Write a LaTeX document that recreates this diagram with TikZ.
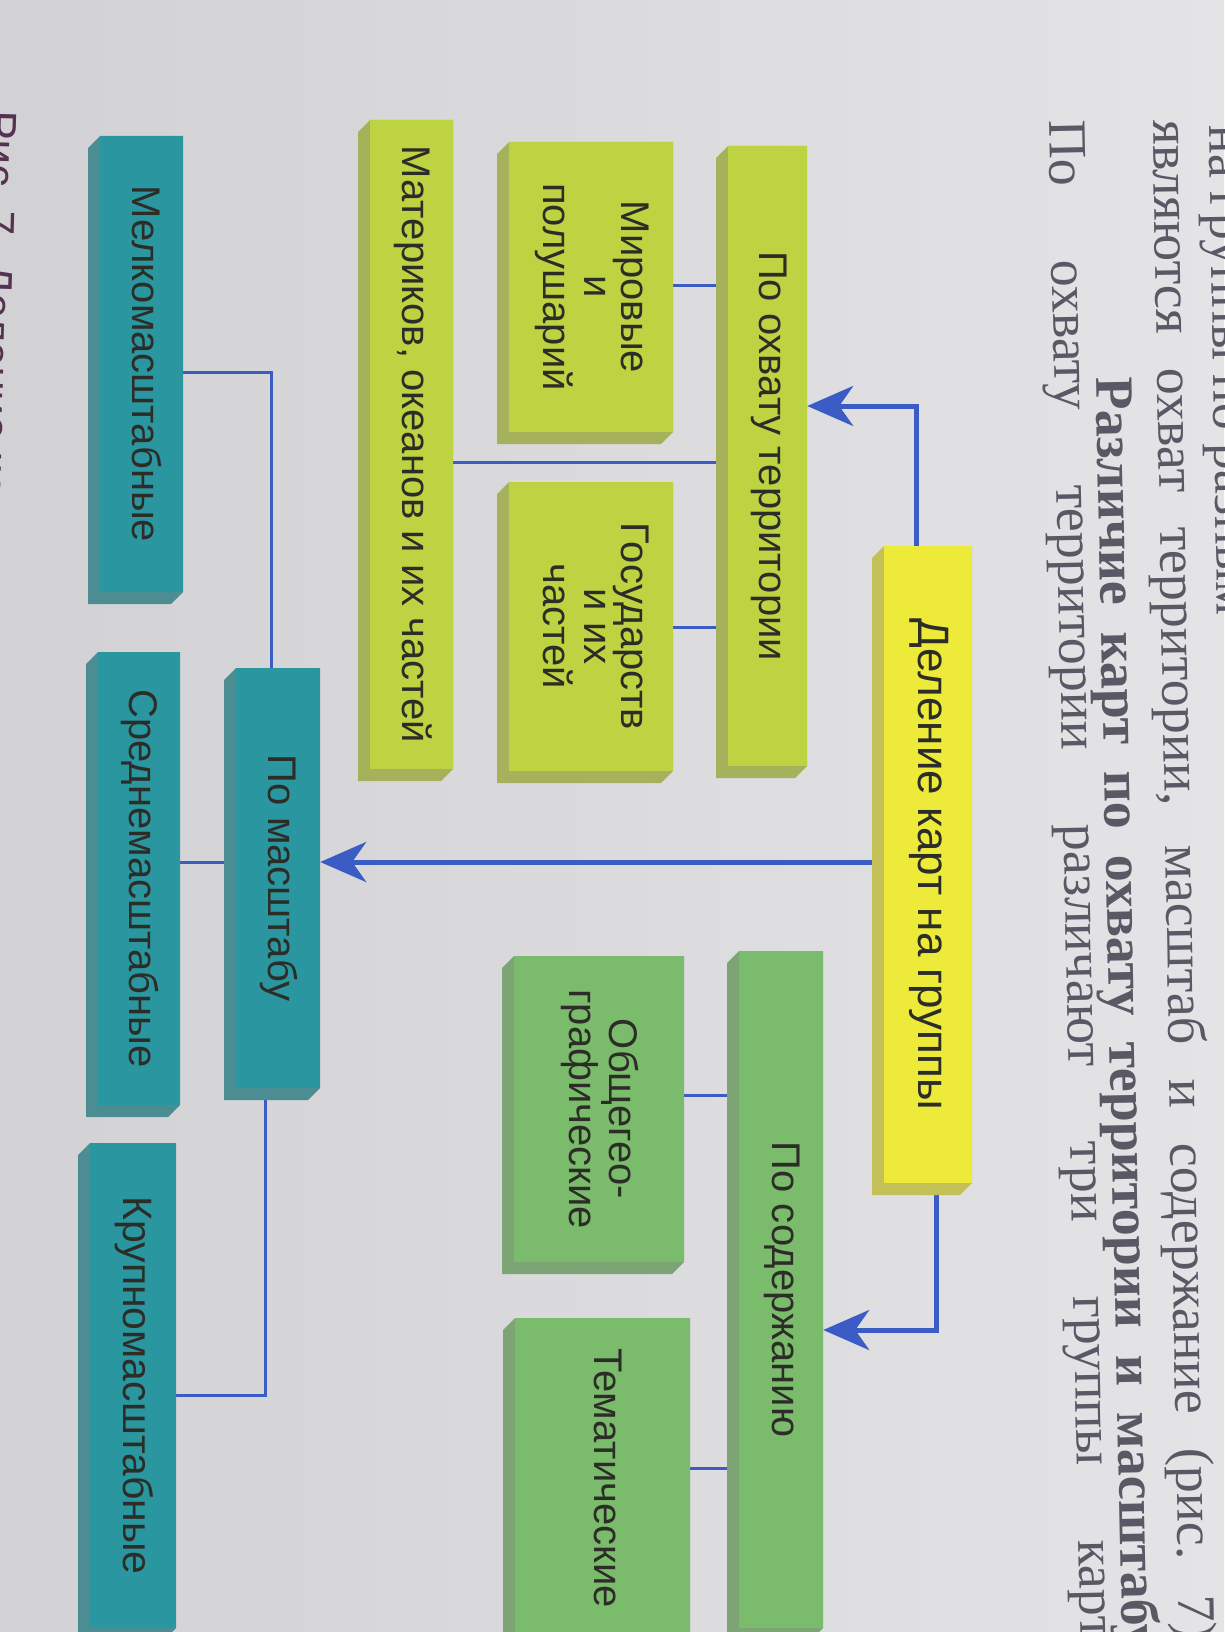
\documentclass[tikz,border=0pt]{standalone}
\usepackage{fontspec}
\usepackage{graphicx}
\setmainfont{Liberation Serif}
\newfontfamily\boxfont{Liberation Sans}
\usetikzlibrary{arrows.meta}
\definecolor{paperA}{RGB}{210,210,213}
\definecolor{paperB}{RGB}{228,228,230}
\definecolor{yellowc}{RGB}{238,234,58}
\definecolor{ygreen}{RGB}{190,211,66}
\definecolor{greenc}{RGB}{122,188,108}
\definecolor{tealc}{RGB}{42,150,160}
\definecolor{lineblue}{RGB}{58,92,196}
\definecolor{boxtext}{RGB}{45,45,40}
\definecolor{booktext}{RGB}{90,88,100}
\definecolor{captext}{RGB}{85,50,80}
\pgfdeclarelayer{paper}
\pgfdeclarelayer{bg}
\pgfsetlayers{paper,bg,main}
\tikzset{
  con/.style={draw=lineblue, line width=3pt},
  arr/.style={draw=lineblue, line width=5pt, -{Stealth[length=46pt,width=40pt,inset=14pt]}},
  bk/.style={text=booktext, inner sep=0pt, font=\fontsize{54}{56}\selectfont},
}
% name, x1, y1, x2, y2, colour, font size, text
\newcommand\blk[8]{%
  \fill[#6!60!gray] ({#2+12},#3) -- (#4,#3) -- (#4,{#5-12}) -- ({#4-12},#5) -- (#2,#5) -- (#2,{#3+12}) -- cycle;
  \node[fill=#6, inner sep=0pt, minimum width={#4-#2-12}, minimum height={#5-#3-12},
        font=\boxfont\fontsize{#7}{37}\selectfont, text=boxtext]
    (#1) at ({(#2+12+#4)/2},{(#3+#5-12)/2})
    {\rotatebox{-90}{\begin{tabular}{@{}c@{}}#8\end{tabular}}};
}
\begin{document}
\begin{tikzpicture}[x=1pt,y=-1pt]
\begin{pgfonlayer}{paper}
  \shade[left color=paperA, right color=paperB] (0,0) rectangle (1224,1632);
\end{pgfonlayer}
\useasboundingbox (0,0) rectangle (1224,1632);
\clip (0,0) rectangle (1224,1632);

% book text (rotated page)
\node[bk, rotate=-89, anchor=base west] (la) at (1209,125) {на группы по разным};
\node[bk, rotate=-89, anchor=base west] (lb) at (1153,120) {\makebox[1520pt][s]{являются охват территории, масштаб и содержание (рис.~7)}};
\node[bk, rotate=-88.8, anchor=base west] (lc) at (1096,377) {\makebox[1275pt][s]{\bfseries Различие карт по охвату территории и масштабу}};
\node[bk, rotate=-88.8, anchor=base west] (ld) at (1049,120) {\makebox[1520pt][s]{По охвату территории различают три группы карт}};
\node[text=captext, inner sep=0pt, rotate=-91.5, anchor=base west, font=\boxfont\fontsize{44}{46}\selectfont] (cap) at (-13,110) {Рис.~7. Деление карт на группы};

% boxes
\blk{del}{872}{546}{972}{1195}{yellowc}{44}{Деление карт на группы}
\blk{ohv}{716}{146}{807}{778}{ygreen}{40}{По охвату территории}
\blk{mir}{497}{142}{673}{444}{ygreen}{40}{Мировые\\и\\полушарий}
\blk{gos}{497}{482}{673}{783}{ygreen}{40}{Государств\\и их\\частей}
\blk{mat}{358}{120}{453}{781}{ygreen}{40}{Материков, океанов и их частей}
\blk{sod}{727}{951}{823}{1640}{greenc}{40}{По содержанию}
\blk{obg}{502}{956}{684}{1274}{greenc}{40}{Общегео-\\графические}
\blk{tem}{503}{1318}{690}{1650}{greenc}{40}{Тематические}
\blk{mas}{224}{668}{320}{1100}{tealc}{40}{По масштабу}
\blk{mel}{88}{136}{183}{604}{tealc}{40}{Мелкомасштабные}
\blk{sre}{86}{652}{180}{1117}{tealc}{40}{Среднемасштабные}
\blk{kru}{78}{1143}{176}{1640}{tealc}{41}{Крупномасштабные}

% connectors
\begin{pgfonlayer}{bg}
  \draw[arr] (916,0 |- del.north) |- (ohv.east |- 0,406);
  \draw[arr] (del.west |- 0,862) -- (mas.east |- 0,862);
  \draw[arr] (936,0 |- del.south) |- (sod.east |- 0,1330);
  \draw[con] (ohv.west |- 0,285) -- (mir.east |- 0,285);
  \draw[con] (ohv.west |- 0,462) -- (mat.east |- 0,462);
  \draw[con] (ohv.west |- 0,627) -- (gos.east |- 0,627);
  \draw[con] (sod.west |- 0,1095) -- (obg.east |- 0,1095);
  \draw[con] (sod.west |- 0,1468) -- (tem.east |- 0,1468);
  \draw[con] (271,0 |- mas.north) |- (mel.east |- 0,372);
  \draw[con] (mas.west |- 0,862) -- (sre.east |- 0,862);
  \draw[con] (265,0 |- mas.south) |- (kru.east |- 0,1395);
\end{pgfonlayer}
\end{tikzpicture}
\end{document}
